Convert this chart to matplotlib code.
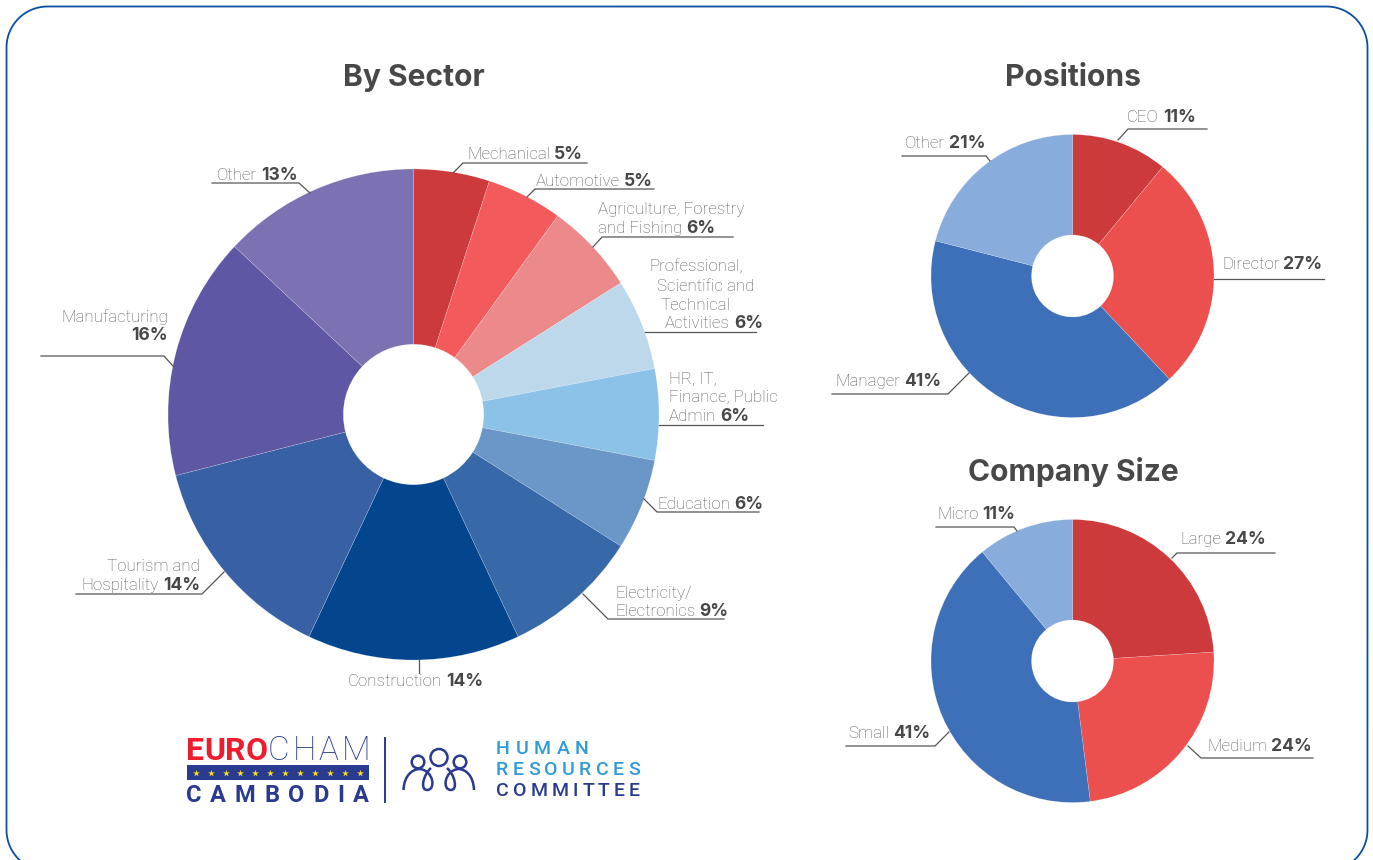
import matplotlib
matplotlib.use("Agg")
import numpy as np
import matplotlib.pyplot as plt
from matplotlib.patches import Circle, PathPatch
from matplotlib.path import Path

W, H = 1373, 860
NAME_FONT = "Roboto"
VAL_FONT = "Inter"
LOGO_FONT = "Roboto"

sector_names = ["Mechanical", "Automotive", "Agriculture, Forestry and Fishing",
                "Professional, Scientific and Technical Activities",
                "HR, IT, Finance, Public Admin", "Education", "Electricity/Electronics",
                "Construction", "Tourism and Hospitality", "Manufacturing", "Other"]
sector_values = [5, 5, 6, 6, 6, 6, 9, 14, 14, 16, 13]
sector_colors = ["#CC3A3B", "#F25A5C", "#EC8A8B", "#BDD7EB", "#8CC2E8", "#6B96C8",
                 "#3769A9", "#03468E", "#3861A5", "#5E58A4", "#7C71B2"]

position_names = ["CEO", "Director", "Manager", "Other"]
position_values = [11, 27, 41, 21]
position_colors = ["#CC3A3B", "#EB504E", "#3D70B8", "#88ACDC"]

size_names = ["Large", "Medium", "Small", "Micro"]
size_values = [24, 24, 41, 11]
size_colors = ["#CC3A3B", "#EB504E", "#3D70B8", "#88ACDC"]

fig = plt.figure(figsize=(W / 100, H / 100), dpi=100, facecolor="white")
rend = fig.canvas.get_renderer()

ov = fig.add_axes([0, 0, 1, 1], zorder=5)
ov.set_xlim(0, W)
ov.set_ylim(H, 0)
ov.axis("off")
ov.patch.set_alpha(0)


def donut(cx, cy, r, values, colors, hole):
    ax = fig.add_axes([(cx - r) / W, 1 - (cy + r) / H, 2 * r / W, 2 * r / H], zorder=2)
    ax.pie(values, colors=colors, startangle=90, counterclock=False, radius=1,
           wedgeprops=dict(width=1 - hole, linewidth=0.3, edgecolor="#ffffff66"))
    ax.set_xlim(-1, 1)
    ax.set_ylim(-1, 1)
    ax.set_aspect("equal")
    ax.axis("off")


donut(413.5, 414.5, 245.5, sector_values, sector_colors, 0.286)
donut(1072.5, 276, 141.5, position_values, position_colors, 0.29)
donut(1072.5, 661, 141.5, size_values, size_colors, 0.29)


def corner(cx, cy, r, a0, a1):
    a = np.radians(np.linspace(a0, a1, 40))
    return list(cx + r * np.cos(a)), list(cy + r * np.sin(a))


L, R, T, B, RAD = 6.5, 1367.5, 6.5, 871, 41
xs, ys = [], []
for c in [(L + RAD, B - RAD, 90, 180), (L + RAD, T + RAD, 180, 270),
          (R - RAD, T + RAD, 270, 360), (R - RAD, B - RAD, 0, 90)]:
    cxs, cys = corner(c[0], c[1], RAD, c[2], c[3])
    xs += cxs
    ys += cys
ov.plot(xs, ys, color="#0B4EA2", lw=1.3)

NAME_C, VAL_C = "#5c5c5c", "#484848"
NAME_FS, VAL_FS = 12.2, 12.6


def width(t):
    return t.get_window_extent(rend).width


def label(x, y, name=None, value=None, ha="left"):
    parts = []
    if name:
        parts.append(ov.text(x, y, name, fontsize=NAME_FS, color=NAME_C, family=NAME_FONT,
                             weight="light", va="baseline", ha="left"))
    if value is not None:
        parts.append(ov.text(x, y, f"{value}%", fontsize=VAL_FS, color=VAL_C, family=VAL_FONT,
                             weight="bold", va="baseline", ha="left"))
    gap = 4
    total = sum(width(p) for p in parts) + gap * (len(parts) - 1)
    cur = x if ha == "left" else x - total
    for p in parts:
        p.set_x(cur)
        cur += width(p) + gap


def lead(*pts):
    ov.plot([p[0] for p in pts], [p[1] for p in pts], color="#555555", lw=0.9,
            solid_joinstyle="miter", zorder=1)


sv = sector_values
label(467, 159, "Mechanical", sv[0]);  lead((453, 173), (463, 163), (587, 163))
label(536, 186, "Automotive", sv[1]);  lead((527, 197), (535, 189), (654, 189))
label(598, 214, "Agriculture, Forestry")
label(598, 233, "and Fishing", sv[2]); lead((593, 247), (602, 237), (733, 237))
label(649, 272, "Professional,")
label(657, 291, "Scientific and")
label(660, 310, "Technical")
label(665, 328, "Activities", sv[3]); lead((645, 332), (756, 332))
label(669, 384, "HR, IT,")
label(669, 402, "Finance, Public")
label(669, 421, "Admin", sv[4]);      lead((659, 425), (763, 425))
label(657, 509, "Education", sv[5]);  lead((644, 499), (657, 512), (759, 512))
label(615, 598, "Electricity/")
label(615, 616, "Electronics", sv[6]); lead((583, 594), (608, 619), (724, 619))
label(348, 686, "Construction", sv[7]); lead((419, 660), (419, 673))
label(200, 571, "Tourism and", ha="right")
label(200, 590, "Hospitality", sv[8], ha="right"); lead((76, 594), (202, 594), (224, 572))
label(168, 322, "Manufacturing", ha="right")
label(168, 340, None, sv[9], ha="right"); lead((41, 356), (164, 356), (173, 366))
label(217, 180, "Other", sv[10]);     lead((212, 183), (299, 183), (310, 193))

label(1127, 122, position_names[0], position_values[0]); lead((1118, 140), (1128, 129), (1207, 129))
label(1222, 269, position_names[1], position_values[1]); lead((1214, 279), (1324, 279))
label(835, 386, position_names[2], position_values[2]);  lead((832, 394), (948, 394), (969, 373))
label(905, 148, position_names[3], position_values[3]);  lead((902, 156), (986, 156), (990, 161))

label(1180, 544, size_names[0], size_values[0]); lead((1172, 558), (1177, 553), (1275, 553))
label(1207, 751, size_names[1], size_values[1]); lead((1188, 746), (1201, 758), (1313, 758))
label(848, 738, size_names[2], size_values[2]);  lead((846, 746), (935, 746), (949, 732))
label(937, 519, size_names[3], size_values[3]);  lead((936, 527), (1014, 527), (1017, 531))

for txt, x, y in [("By Sector", 414, 86), ("Positions", 1073, 86), ("Company Size", 1073, 481)]:
    ov.text(x, y, txt, fontsize=21.6, color=VAL_C, family=VAL_FONT, weight="bold",
            ha="center", va="baseline")


def spaced(txt, x0, x1, y, size, color, weight="bold"):
    ts = [ov.text(x0, y, c, fontsize=size, color=color, family=LOGO_FONT, weight=weight,
                  va="baseline", ha="left") for c in txt]
    ws = [width(t) for t in ts]
    gap = (x1 - x0 - sum(ws)) / max(len(ts) - 1, 1)
    cur = x0
    for t, w in zip(ts, ws):
        t.set_x(cur)
        cur += w + gap


NAVY, SKY = "#2A3B8F", "#2F9BD7"
spaced("EURO", 186, 268, 760, 23, "#ED1C2E", "bold")
spaced("CHAM", 268, 370, 760, 24, NAVY, "light")
ov.fill_between([187, 369], 765, 780, color=NAVY, lw=0)
ov.scatter([195.7 + 14.9 * i for i in range(12)], [772.5] * 12, marker="*", s=26,
           color="#F7E017", lw=0, zorder=3)
spaced("CAMBODIA", 186, 369, 802, 17, NAVY, "bold")
ov.plot([385, 385], [738, 802], color=NAVY, lw=1.4)

for cx, cy, r in [(418, 762, 6.3), (439, 757.5, 8.5), (460, 762, 6.3)]:
    ov.add_patch(Circle((cx, cy), r, fc="none", ec=NAVY, lw=1.8))
for verts in [
    [(403.5, 790), (404, 776), (412, 769), (420, 769)],
    [(474, 790), (473.5, 776), (466, 769), (458, 769)],
    [(420, 769), (434, 771), (436, 790), (427, 790)],
    [(427, 790), (420, 790), (423, 775), (431, 768)],
    [(458, 769), (444, 771), (442, 790), (451, 790)],
    [(451, 790), (458, 790), (455, 775), (447, 768)],
]:
    ov.add_patch(PathPatch(Path(verts, [Path.MOVETO, Path.CURVE4, Path.CURVE4, Path.CURVE4]),
                           fc="none", ec=NAVY, lw=1.8))

spaced("HUMAN", 496, 589, 754, 14, SKY, "medium")
spaced("RESOURCES", 496, 640, 775, 14, SKY, "medium")
spaced("COMMITTEE", 496, 640, 796, 14, NAVY, "medium")

fig.savefig("out.png", dpi=100, facecolor="white")
